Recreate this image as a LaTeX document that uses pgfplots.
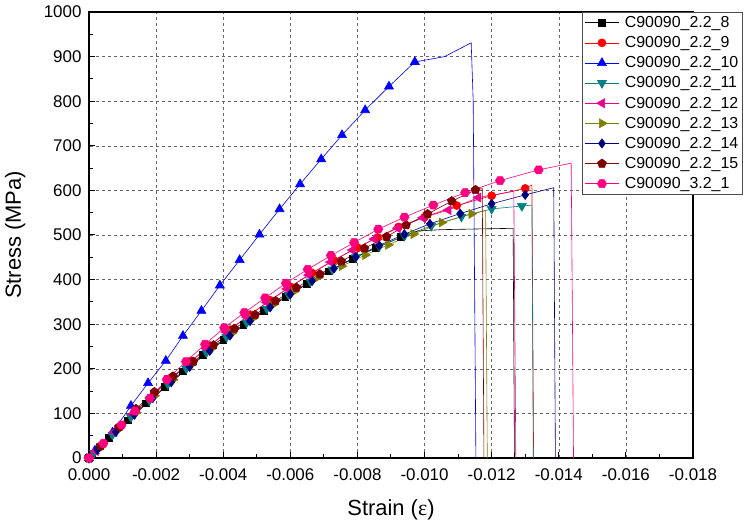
\documentclass[border=0pt]{standalone}
\usepackage{pgfplots}
\pgfplotsset{compat=1.18}
\usepackage{fontspec}
\setmainfont{Liberation Sans}
\newfontfamily\serifgreek{Liberation Serif}
\usetikzlibrary{plotmarks}
\pgfdeclareplotmark{hexagon*}{%
  \pgfpathmoveto{\pgfqpointpolar{0}{\pgfplotmarksize}}%
  \pgfpathlineto{\pgfqpointpolar{60}{\pgfplotmarksize}}%
  \pgfpathlineto{\pgfqpointpolar{120}{\pgfplotmarksize}}%
  \pgfpathlineto{\pgfqpointpolar{180}{\pgfplotmarksize}}%
  \pgfpathlineto{\pgfqpointpolar{240}{\pgfplotmarksize}}%
  \pgfpathlineto{\pgfqpointpolar{300}{\pgfplotmarksize}}%
  \pgfpathclose\pgfusepathqfillstroke}
\definecolor{cteal}{RGB}{0,128,128}
\definecolor{colive}{RGB}{128,128,0}
\definecolor{cnavy}{RGB}{0,0,128}
\definecolor{cwine}{RGB}{128,0,0}
\definecolor{cpink}{RGB}{255,0,128}
\begin{document}
\begin{tikzpicture}
\begin{axis}[
  width=604bp, height=446bp, scale only axis,
  xmin=-0.018, xmax=0, x dir=reverse,
  ymin=0, ymax=1000,
  scaled x ticks=false, scaled y ticks=false,
  xtick={0,-0.002,-0.004,-0.006,-0.008,-0.010,-0.012,-0.014,-0.016,-0.018},
  xticklabels={0.000,-0.002,-0.004,-0.006,-0.008,-0.010,-0.012,-0.014,-0.016,-0.018},
  ytick={0,100,...,1000},
  yticklabels={0,100,200,300,400,500,600,700,800,900,1000},
  minor x tick num=1, minor y tick num=1,
  tick align=inside, tick pos=left,
  major tick length=6.5bp, minor tick length=4bp,
  tick style={black, line width=1bp},
  axis line style={line width=1.4bp},
  grid=major,
  major grid style={gray!80!black, line width=0.5bp, dash pattern=on 3bp off 3bp},
  ticklabel style={font=\fontsize{17}{20}\selectfont},
  xticklabel style={yshift=-7bp},
  yticklabel style={xshift=-4bp},
  xlabel={Strain ({\serifgreek ε})}, ylabel={Stress (MPa)},
  label style={font=\fontsize{22}{26}\selectfont},
  x label style={at={(axis description cs:0.5,-0.117)}, anchor=center},
  y label style={at={(axis description cs:-0.122,0.5)}, anchor=center},
  legend style={at={(rel axis cs:0.816,1)}, anchor=north west,
    draw=black!70, line width=0.6bp, fill=white,
    font=\fontsize{16}{18}\selectfont, inner sep=2.5bp, row sep=4.3bp,
    nodes={inner sep=1.6bp},
    /tikz/every odd column/.append style={column sep=4bp}},
  legend cell align=left,
  legend image code/.code={\draw[mark repeat=2,mark phase=2,#1] plot coordinates {(0bp,0bp) (17bp,0bp) (34bp,0bp)};},
  every axis plot/.append style={line width=0.6bp},
]
% 2.2_8 black squares
\addplot[black, mark=square*, mark size=3.4bp, mark options={solid}] coordinates {
(0,0) (-0.1e-3,7.6) (-0.6e-3,44.9) (-1.15e-3,84.4) (-1.7e-3,122.5) (-2.25e-3,159.1)
(-2.8e-3,194.2) (-3.4e-3,230.7) (-4.0e-3,265.5) (-4.6e-3,298.5) (-5.2e-3,329.7)
(-5.85e-3,361.5) (-6.5e-3,391.2) (-7.15e-3,418.7) (-7.85e-3,446.2) (-8.55e-3,471.1)
(-9.3e-3,495.1)};
\addlegendentry{C90090\_2.2\_8}
% 2.2_9 red circles
\addplot[red, mark=*, mark size=4bp, mark options={solid}] coordinates {
(0,0) (-0.3e-3,23.5) (-0.85e-3,65.4) (-1.4e-3,105.7) (-1.95e-3,144.6) (-2.5e-3,181.9)
(-3.05e-3,217.7) (-3.6e-3,252) (-4.2e-3,287.7) (-4.8e-3,321.6) (-5.4e-3,353.7)
(-6.0e-3,384) (-6.65e-3,414.8) (-7.3e-3,443.5) (-8.0e-3,472) (-8.6e-3,494.5)
(-9.22e-3,518) (-10.0e-3,540) (-10.96e-3,566) (-12.0e-3,588) (-13.0e-3,604.5)};
\addlegendentry{C90090\_2.2\_9}
% 2.2_10 blue triangles
\addplot[blue, mark=triangle*, mark size=5.2bp, mark options={solid}] coordinates {
(0,0) (-0.17e-3,16) (-0.70e-3,57) (-1.25e-3,117) (-1.76e-3,168) (-2.29e-3,218)
(-2.80e-3,274) (-3.35e-3,330) (-3.90e-3,387) (-4.49e-3,444) (-5.08e-3,501)
(-5.68e-3,558) (-6.29e-3,614) (-6.92e-3,670) (-7.54e-3,724) (-8.23e-3,780)
(-8.94e-3,833) (-9.71e-3,888)};
\addlegendentry{C90090\_2.2\_10}
% 2.2_11 teal down triangles
\addplot[cteal, mark=triangle*, mark size=5.2bp, mark options={solid, rotate=180}] coordinates {
(0,0) (-0.15e-3,11.4) (-0.7e-3,52.2) (-1.25e-3,91.5) (-1.8e-3,129.3) (-2.35e-3,165.6)
(-2.9e-3,200.4) (-3.5e-3,236.7) (-4.1e-3,271.1) (-4.7e-3,303.8) (-5.3e-3,334.7)
(-5.95e-3,366.2) (-6.6e-3,395.6) (-7.25e-3,422.8) (-7.95e-3,449.9) (-8.65e-3,474.4)
(-9.4e-3,498.1) (-10.2e-3,520.3) (-11.1e-3,541) (-12.0e-3,558.5) (-12.9e-3,565)};
\addlegendentry{C90090\_2.2\_11}
% 2.2_12 magenta left triangles
\addplot[magenta, mark=triangle*, mark size=5.2bp, mark options={solid, rotate=90}] coordinates {
(0,0) (-0.2e-3,15.7) (-0.75e-3,57.9) (-1.3e-3,98.5) (-1.85e-3,137.6) (-2.4e-3,175.2)
(-2.95e-3,211.3) (-3.5e-3,245.9) (-4.1e-3,281.9) (-4.7e-3,316.1) (-5.3e-3,348.5)
(-5.9e-3,379.1) (-6.55e-3,410.2) (-7.2e-3,439.2) (-7.85e-3,466.1) (-8.5e-3,490.9)
(-9.2e-3,515.2) (-9.95e-3,538.6) (-10.71e-3,556) (-11.6e-3,584)};
\addlegendentry{C90090\_2.2\_12}
% 2.2_13 olive right triangles
\addplot[colive, mark=triangle*, mark size=5.2bp, mark options={solid, rotate=-90}] coordinates {
(0,0) (-0.3e-3,22.7) (-0.85e-3,63.1) (-1.4e-3,101.9) (-1.95e-3,139.4) (-2.5e-3,175.3)
(-3.05e-3,209.6) (-3.65e-3,245.5) (-4.25e-3,279.5) (-4.85e-3,311.8) (-5.45e-3,342.1)
(-6.1e-3,373.1) (-6.84e-3,406) (-7.53e-3,430) (-8.23e-3,455) (-8.92e-3,478)
(-9.67e-3,502) (-10.51e-3,528) (-11.4e-3,547.5)};
\addlegendentry{C90090\_2.2\_13}
% 2.2_14 navy diamonds
\addplot[cnavy, mark=diamond*, mark size=4.6bp, mark options={solid}] coordinates {
(0,0) (-0.25e-3,18.6) (-0.8e-3,58.5) (-1.35e-3,97.1) (-1.9e-3,134.2) (-2.45e-3,169.9)
(-3.0e-3,204.3) (-3.6e-3,240.2) (-4.2e-3,274.4) (-4.8e-3,307) (-5.4e-3,337.9)
(-6.0e-3,367.2) (-6.65e-3,397) (-7.3e-3,424.9) (-7.95e-3,450.9) (-8.65e-3,476.7)
(-9.4e-3,501.8) (-10.16e-3,525) (-11.06e-3,548) (-12.0e-3,570) (-13.0e-3,590)};
\addlegendentry{C90090\_2.2\_14}
% 2.2_15 wine pentagons
\addplot[cwine, mark=pentagon*, mark size=4.6bp, mark options={solid}] coordinates {
(0,0) (-0.35e-3,27) (-0.9e-3,70) (-1.4e-3,110) (-1.95e-3,148) (-2.5e-3,183)
(-3.11e-3,216) (-3.71e-3,253) (-4.33e-3,290) (-4.95e-3,321) (-5.56e-3,352)
(-6.18e-3,382) (-6.88e-3,412) (-7.52e-3,441) (-8.21e-3,470) (-8.87e-3,496)
(-9.45e-3,522) (-10.09e-3,547) (-10.81e-3,576) (-11.52e-3,601)};
\addlegendentry{C90090\_2.2\_15}
% 3.2_1 pink hexagons
\addplot[cpink, mark=hexagon*, mark size=4.6bp, mark options={solid}] coordinates {
(0,0) (-0.43e-3,33) (-0.97e-3,74) (-1.37e-3,105) (-1.82e-3,134) (-2.32e-3,176)
(-2.89e-3,216) (-3.46e-3,255) (-4.03e-3,292) (-4.63e-3,326) (-5.25e-3,359)
(-5.87e-3,392) (-6.52e-3,423) (-7.21e-3,454) (-7.90e-3,483) (-8.62e-3,513)
(-9.40e-3,540) (-10.26e-3,567) (-11.21e-3,595) (-12.25e-3,622) (-13.40e-3,646)};
\addlegendentry{C90090\_3.2\_1}
% tails (fracture) without markers
\addplot[black, forget plot] coordinates {(-9.3e-3,495.1) (-9.8e-3,509) (-10.5e-3,512) (-12.64e-3,515) (-12.68e-3,0)};
\addplot[red, forget plot] coordinates {(-13.0e-3,604.5) (-13.2e-3,612) (-13.25e-3,0)};
\addplot[blue, forget plot] coordinates {(-9.71e-3,888) (-10.6e-3,900) (-11.39e-3,931) (-11.45e-3,800) (-11.53e-3,0)};
\addplot[cteal, forget plot] coordinates {(-12.9e-3,565) (-13.2e-3,567) (-13.24e-3,0)};
\addplot[magenta, forget plot] coordinates {(-11.6e-3,584) (-12.66e-3,598) (-12.72e-3,0)};
\addplot[colive, forget plot] coordinates {(-11.4e-3,547.5) (-11.82e-3,555) (-11.87e-3,0)};
\addplot[cnavy, forget plot] coordinates {(-13.0e-3,590) (-13.85e-3,606) (-13.9e-3,0)};
\addplot[cwine, forget plot] coordinates {(-11.52e-3,601) (-11.72e-3,604) (-11.77e-3,0)};
\addplot[cpink, forget plot] coordinates {(-13.40e-3,646) (-14.37e-3,661) (-14.44e-3,0)};
\path (rel axis cs:0,0) ++(-89bp,-70bp) coordinate (bbA);
\path (rel axis cs:1,1) ++(54bp,12bp) coordinate (bbB);
\end{axis}
\useasboundingbox (bbA) rectangle (bbB);
\end{tikzpicture}
\end{document}
